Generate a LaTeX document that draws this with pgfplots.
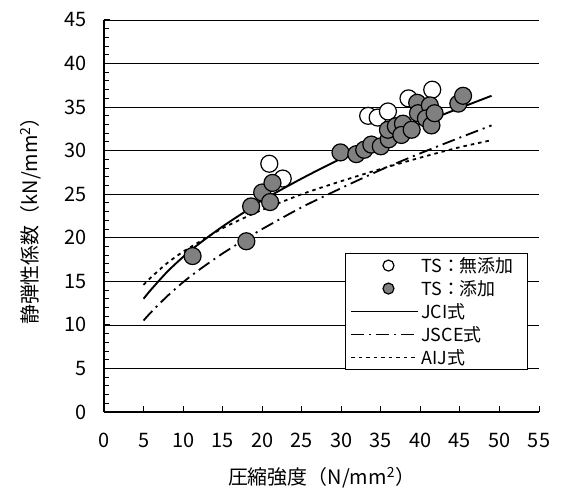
\documentclass[border=0pt]{standalone}
\usepackage{fontspec}
\setmainfont{Noto Sans CJK JP}
\usepackage{pgfplots}
\pgfplotsset{compat=1.18}
\usetikzlibrary{calc}
\pgfplotsset{
  lineleg/.style={legend image code/.code={\draw[##1] (0bp,0bp) -- (67bp,0bp);}},
  markleg/.style={legend image code/.code={\draw[##1] plot coordinates {(37bp,0bp)};}},
}
\begin{document}
\begin{tikzpicture}
\begin{axis}[name=ax,
  scale only axis, width=435bp, height=392bp,
  xmin=0, xmax=55, ymin=0, ymax=45,
  xtick={0,5,...,55}, ytick={0,5,...,45},
  minor y tick num=4,
  axis x line*=bottom, axis y line*=left,
  axis line style={line width=1.3bp},
  tick align=inside,
  major tick length=6bp, minor tick length=5bp,
  every tick/.style={black, line width=1bp},
  ymajorgrids, grid style={black, line width=0.7bp},
  /pgf/number format/assume math mode=true,
  ticklabel style={font=\fontsize{20}{22}\selectfont},
  yticklabel style={xshift=-14bp},
  xticklabel style={yshift=-18bp},
  xlabel={圧縮強度（N/mm\textsuperscript{2}）},
  ylabel={静弾性係数（kN/mm\textsuperscript{2}）},
  label style={font=\fontsize{20}{22}\selectfont},
  xlabel style={yshift=-12bp},
  ylabel style={yshift=16bp},
  legend cell align=left,
  legend style={at={(0.975,0.107)}, anchor=south east, draw=black, line width=0.8bp,
    font=\fontsize{18}{20}\selectfont, row sep=2.5bp, inner xsep=5bp, inner ysep=2bp},
]
% legend entries
\addlegendimage{only marks, mark=o, mark size=5.5bp, draw=black, line width=1.2bp, markleg}
\addlegendentry{TS：無添加\hspace*{7bp}}
\addlegendimage{only marks, mark=*, mark size=5.5bp, draw=black, fill=gray, line width=1.2bp, markleg}
\addlegendentry{TS：添加}
\addlegendimage{black, line width=1.8bp, lineleg}
\addlegendentry{JCI式}
\addlegendimage{black, line width=1.8bp, dash pattern=on 13bp off 5bp on 2bp off 5bp, lineleg}
\addlegendentry{JSCE式}
\addlegendimage{black, line width=1.8bp, dash pattern=on 3.5bp off 4bp, lineleg}
\addlegendentry{AIJ式}
% curves
\addplot[black, line width=1.9bp, smooth, forget plot] coordinates {
 (5,13.0) (6,14.1) (8,16.1) (10,17.8) (12,19.3) (15,21.3) (18,23.1) (20,24.3)
 (25,26.8) (30,29.1) (35,31.2) (40,33.1) (45,34.9) (49,36.3)};
\addplot[black, line width=1.8bp, smooth, dash pattern=on 13bp off 5bp on 2bp off 5bp, forget plot] coordinates {
 (5,10.5) (6,11.5) (8,13.3) (10,14.9) (12,16.3) (15,18.2) (18,19.9) (20,21.0)
 (25,23.5) (30,25.7) (35,27.8) (40,29.7) (45,31.5) (49,32.9)};
\addplot[black, line width=1.8bp, smooth, dash pattern=on 3.5bp off 4bp, forget plot] coordinates {
 (5,14.6) (6,15.5) (8,17.1) (10,18.4) (12,19.5) (15,21.1) (18,22.4) (20,23.2)
 (25,25.0) (30,26.5) (35,27.9) (40,29.2) (45,30.4) (49,31.2)};
% data
\addplot[only marks, mark=*, mark size=8.5bp, draw=black, fill=white, line width=1.2bp, forget plot] coordinates {
 (20.9,28.5) (22.6,26.8) (33.4,34.0) (34.6,33.8) (35.9,34.5) (38.5,36.0) (41.5,37.0)};
\addplot[only marks, mark=*, mark size=8.5bp, draw=black, fill=gray, line width=1.2bp, forget plot] coordinates {
 (11.2,17.9) (18.0,19.6) (18.6,23.6) (20.0,25.2) (21.3,26.3) (21.0,24.1)
 (29.9,29.8) (31.9,29.6) (32.9,30.1) (33.8,30.7) (35.0,30.5) (36.0,31.3)
 (35.9,32.4) (36.9,32.8) (37.8,33.1) (37.6,31.8) (38.9,32.4) (39.6,35.5)
 (39.7,34.3) (41.2,35.2) (40.7,33.7) (41.4,32.9) (41.8,34.3) (44.8,35.4) (45.4,36.3)};
\end{axis}
\pgfresetboundingbox
\path[use as bounding box] ($(ax.south west)+(-104bp,-77bp)$) rectangle ($(ax.north east)+(22bp,20bp)$);
\end{tikzpicture}
\end{document}
